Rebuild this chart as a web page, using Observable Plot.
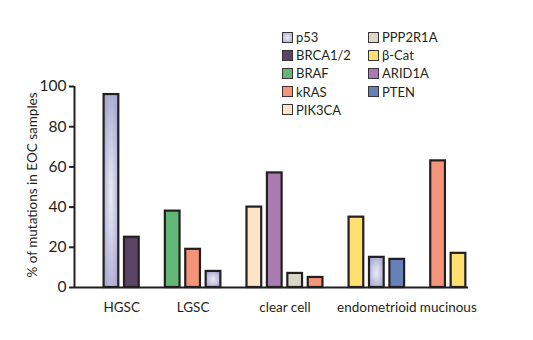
<!DOCTYPE html>
<html>
<head>
<meta charset="utf-8">
<script src="https://cdn.jsdelivr.net/npm/d3@7"></script>
<script src="https://cdn.jsdelivr.net/npm/@observablehq/plot@0.6"></script>
<style>
  body { margin: 0; background: #fff; }
  #wrap { position: relative; width: 533px; height: 340px; font-family: Lato, "Open Sans", sans-serif; color: #231f20; }
  #legend { position: absolute; left: 282px; top: 28px; display: grid; grid-template-columns: 86px 90px; grid-auto-flow: column; grid-template-rows: repeat(5, 18.2px); font-size: 13px; }
  .item { display: flex; align-items: center; white-space: nowrap; }
  .sw { width: 9px; height: 9px; border: 1.5px solid #3a3436; margin-right: 3px; flex: none; }
</style>
</head>
<body>
<div id="wrap"><div id="legend"></div></div>
<script>
// ---- data ----
const groups = ["HGSC", "LGSC", "clear cell", "endometrioid", "mucinous"];
const barGroup = ["HGSC", "HGSC", "LGSC", "LGSC", "LGSC", "clear cell", "clear cell", "clear cell", "clear cell", "endometrioid", "endometrioid", "endometrioid", "mucinous", "mucinous"];
const barGene = ["p53", "BRCA1/2", "BRAF", "kRAS", "p53", "PIK3CA", "ARID1A", "PPP2R1A", "kRAS", "β-Cat", "p53", "PTEN", "kRAS", "β-Cat"];
const barValue = [96, 25, 38, 19, 8, 40, 57, 7, 5, 35, 15, 14, 63, 17];
const genes = ["p53", "BRCA1/2", "BRAF", "kRAS", "PIK3CA", "PPP2R1A", "β-Cat", "ARID1A", "PTEN"];
const geneColors = ["url(#p53grad)", "#5a4463", "#62b676", "#f4957a", "#fde3c8", "#d9d8c6", "#fde070", "#a97bb0", "#6680b8"];
const yTicks = [0, 20, 40, 60, 80, 100];
const yLabel = "% of mutations in EOC samples";

// slot layout: one empty slot between groups
const bars = [];
let slot = 0;
groups.forEach((g, gi) => {
  if (gi > 0) slot += 1;
  barGroup.forEach((bg, i) => {
    if (bg === g) { bars.push({group: g, gene: barGene[i], value: barValue[i], slot}); slot += 1; }
  });
});
const groupCenters = groups.map(g => {
  const s = bars.filter(b => b.group === g).map(b => b.slot);
  return {group: g, center: d3.mean(s)};
});

const xDomain = [-1.81, 17.49];
const half = 0.36;
const ink = "#231f20";

const defs = () => {
  const ns = "http://www.w3.org/2000/svg";
  const d = document.createElementNS(ns, "defs");
  d.innerHTML = `<radialGradient id="p53grad" cx="0.5" cy="0.52" r="0.55">
    <stop offset="0" stop-color="#ecebf6"/>
    <stop offset="1" stop-color="#acacd3"/></radialGradient>`;
  return d;
};

const chart = Plot.plot({
  width: 533,
  height: 340,
  marginLeft: 74,
  marginRight: 65,
  marginTop: 86,
  marginBottom: 53,
  style: {fontFamily: "Lato, Open Sans, sans-serif", color: ink, background: "#fff"},
  x: {type: "linear", domain: xDomain, axis: null},
  y: {domain: [0, 100], axis: null},
  color: {type: "ordinal", domain: genes, range: geneColors},
  marks: [
    defs,
    Plot.rect(bars, {x1: d => d.slot - half, x2: d => d.slot + half, y1: 0, y2: "value", fill: "gene", stroke: ink, strokeWidth: 2.2}),
    Plot.ruleY([0], {stroke: ink, strokeWidth: 2}),
    Plot.ruleX([xDomain[0]], {stroke: ink, strokeWidth: 2}),
    Plot.axisY({ticks: yTicks, tickSize: 5, tickPadding: 3, fontSize: 15.5, label: null, stroke: ink, strokeWidth: 2}),
    Plot.text([yLabel], {frameAnchor: "left", dx: -42, dy: -2, rotate: -90, textAnchor: "middle", fontSize: 13.5, fill: ink}),
    Plot.text(groupCenters, {x: "center", frameAnchor: "bottom", dy: 24, text: "group", fontSize: 13.5, fill: ink})
  ]
});
document.getElementById("wrap").prepend(chart);

const legend = document.getElementById("legend");
const swatchFill = {"p53": "radial-gradient(#ecebf6, #acacd3)"};
genes.forEach((g, i) => {
  const it = document.createElement("div");
  it.className = "item";
  const sw = document.createElement("span");
  sw.className = "sw";
  sw.style.background = swatchFill[g] || geneColors[i];
  it.appendChild(sw);
  it.appendChild(document.createTextNode(g));
  legend.appendChild(it);
});
</script>
</body>
</html>
